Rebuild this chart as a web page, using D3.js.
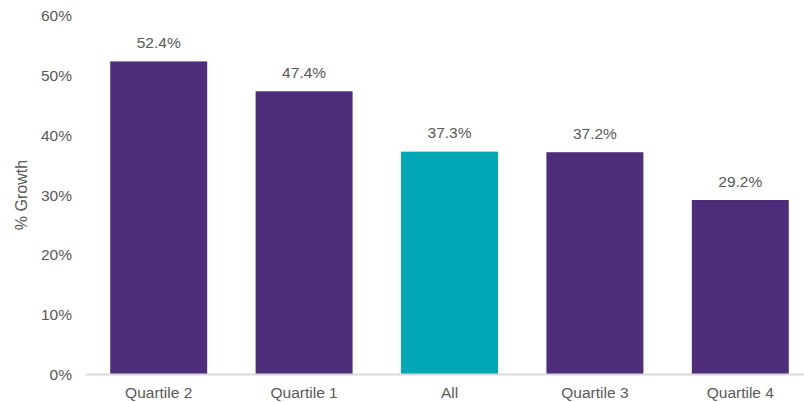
<!DOCTYPE html>
<html><head><meta charset="utf-8">
<script src="https://cdn.jsdelivr.net/npm/d3@7"></script>
<style>body{margin:0;background:#fff}svg{display:block}text{font-family:"Liberation Sans",Arial,sans-serif}</style>
</head><body><svg id="c" width="804" height="402"></svg>
<script>
const categories = ["Quartile 2","Quartile 1","All","Quartile 3","Quartile 4"];
const values = [52.4, 47.4, 37.3, 37.2, 29.2];
const highlight = ["All"];
const yTicks = [0,10,20,30,40,50,60];

const svg = d3.select("#c");
const x = d3.scaleBand().domain(categories).range([86, 813]).paddingInner(0.333).paddingOuter(0.1665);
const y = d3.scaleLinear().domain([0,60]).range([374.5, 16]);

const purple = "#4E2D7B", teal = "#00A8B5", grey = "#595959";
const fs = 15.5;

// y axis labels
const ya = svg.append("g").attr("transform","translate(72,0)")
  .call(d3.axisLeft(y).tickValues(yTicks).tickFormat(d=>d+"%").tickSize(0).tickPadding(0));
ya.select(".domain").remove();
ya.selectAll("text").attr("font-size",fs).attr("fill",grey).attr("font-family","Liberation Sans, Arial, sans-serif");

// bars
svg.selectAll("rect.bar").data(categories).enter().append("rect")
  .attr("x", d=>x(d)).attr("width", x.bandwidth())
  .attr("y", (d,i)=>y(values[i])).attr("height",(d,i)=>y(0)-y(values[i]))
  .attr("fill", d=>highlight.includes(d)?teal:purple);

// x axis
const xa = svg.append("g").attr("transform",`translate(0,${y(0)})`)
  .call(d3.axisBottom(x).tickSize(0).tickPadding(12));
xa.select(".domain").attr("stroke","#d9d9d9").attr("stroke-width",2)
  .attr("d", `M86,0H804`);
xa.selectAll("text").attr("font-size",fs).attr("fill",grey).attr("font-family","Liberation Sans, Arial, sans-serif");

// value labels
svg.selectAll("text.val").data(categories).enter().append("text")
  .attr("x", d=>x(d)+x.bandwidth()/2).attr("y",(d,i)=>y(values[i])-13.5)
  .attr("text-anchor","middle").attr("font-size",fs).attr("fill",grey)
  .text((d,i)=>values[i].toFixed(1)+"%");

// y title
svg.append("text").attr("transform","translate(27,195) rotate(-90)")
  .attr("text-anchor","middle").attr("font-size",16).attr("fill",grey).text("% Growth");
</script></body></html>
